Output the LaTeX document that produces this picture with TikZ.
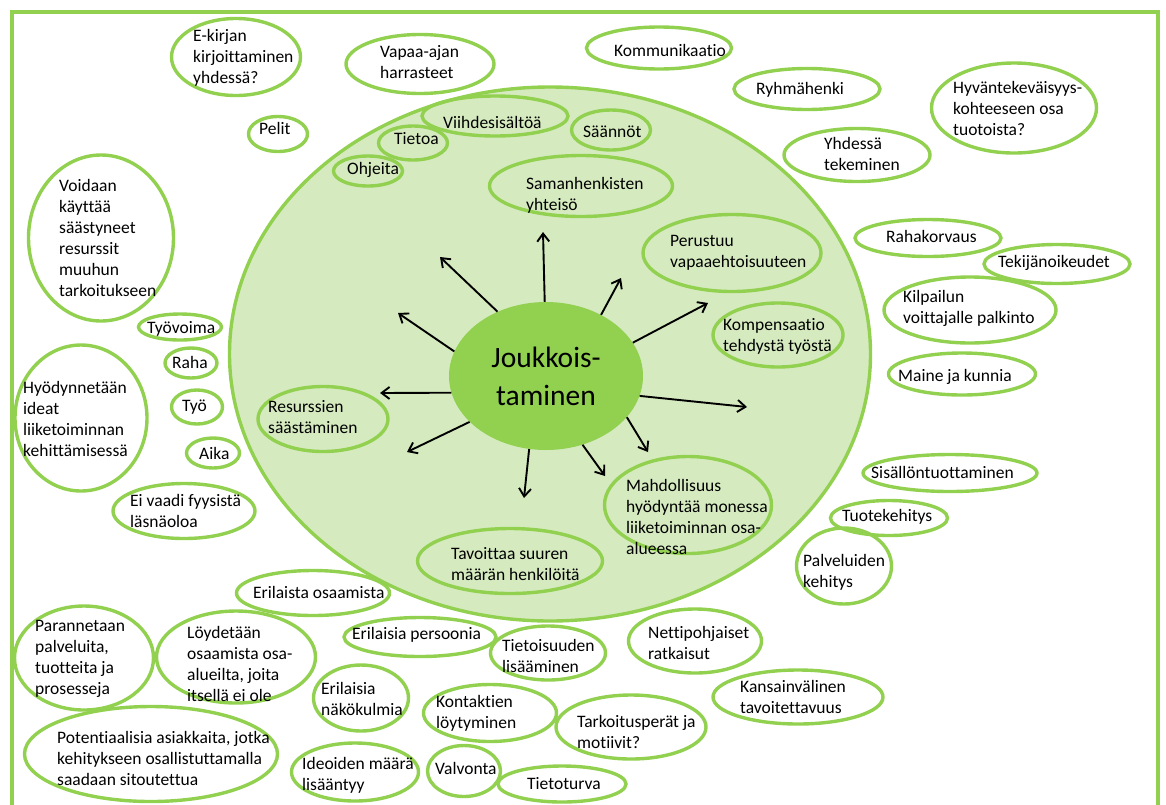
\documentclass[tikz,border=0pt]{standalone}
\usepackage{fontspec}
\setmainfont[Ligatures={NoCommon}]{Carlito}
\usetikzlibrary{shapes.geometric,arrows.meta}
\definecolor{leaf}{RGB}{146,208,80}
\definecolor{paleleaf}{RGB}{213,235,191}

% bubble: name, centre x, centre y, width, height, text x, text y, text
\newcommand\bub[8]{%
  \node[bubble, minimum width=#4pt, minimum height=#5pt] (#1) at (#2,#3) {};
  \node[txt] (#1t) at (#6,#7) {#8};}

\begin{document}
\begin{tikzpicture}[x=1pt,y=-1pt,
  bubble/.style={ellipse, draw=leaf, line width=3.4pt, inner sep=0pt},
  txt/.style={inner sep=0pt, align=left, anchor=west, text=black,
    font=\fontsize{17.5}{21}\selectfont},
  ray/.style={line width=1.9pt, draw=black,
    -{Straight Barb[length=8pt,width=12pt]}}]
\useasboundingbox (0,0) rectangle (1166,804);
\clip (0,0) rectangle (1166,804);
\fill[white] (0,0) rectangle (1166,804);

% frame
\draw[leaf, line width=3.5pt] (12,12) rectangle (1158,840);

% large shaded area
\node[ellipse, fill=paleleaf, draw=leaf, line width=3.4pt, inner sep=0pt,
  minimum width=641pt, minimum height=534pt] (area) at (550,354) {};

% central topic
\node[ellipse, fill=leaf, inner sep=0pt, minimum width=194pt, minimum height=148pt,
  align=center, font=\fontsize{29.5}{38}\selectfont] (J) at (546,376) {Joukkois-\\taminen};

% arrows radiating from the centre
\coordinate (c1) at (440,257);
\coordinate (c2) at (543,232);
\coordinate (c3) at (621,278);
\coordinate (c4) at (708,303);
\coordinate (c5) at (747,407);
\coordinate (c6) at (648,452);
\coordinate (c7) at (605,476);
\coordinate (c8) at (524,498);
\coordinate (c9) at (407,452);
\coordinate (c10) at (380,393);
\coordinate (c11) at (398,313);
\draw[ray] (J.127) -- (c1);
\draw[ray] (J.91) -- (c2);
\draw[ray] (J.48) -- (c3);
\draw[ray] (J.21) -- (c4);
\draw[ray] (J.-12) -- (c5);
\draw[ray] (J.-27) -- (c6);
\draw[ray] (J.-62) -- (c7);
\draw[ray] (J.-103) -- (c8);
\draw[ray] (J.211) -- (c9);
\draw[ray] (J.190) -- (c10);
\draw[ray] (J.165) -- (c11);

% bubbles
\bub{ekirja}{236}{57}{129}{77}{193}{58}{E-kirjan\\kirjoittaminen\\yhdessä?}
\bub{vapaa}{420}{64}{148}{59}{380}{62}{Vapaa-ajan\\harrasteet}
\bub{pelit}{278}{134}{59}{35}{259}{128}{Pelit}
\bub{voidaan}{101}{238}{145}{166}{59}{238}{Voidaan\\käyttää\\säästyneet\\resurssit\\muuhun\\tarkoitukseen}
\bub{ohjeita}{368}{171}{69}{30}{347}{170}{Ohjeita}
\bub{tietoa}{413}{143}{69}{34}{394}{139}{Tietoa}
\bub{viihde}{495}{116}{146}{40}{443}{122}{Viihdesisältöä}
\bub{saannot}{611}{130}{79}{40}{583}{132}{Säännöt}
\bub{saman}{581}{186}{183}{61}{526}{195}{Samanhenkisten\\yhteisö}
\bub{kommu}{659}{48}{145}{42}{614}{50}{Kommunikaatio}
\bub{ryhma}{807}{89}{146}{41}{756}{90}{Ryhmähenki}
\bub{hyvante}{1014}{108}{165}{90}{953}{108}{Hyväntekeväisyys-\\kohteeseen osa\\tuotoista?}
\bub{yhdessa}{857}{155}{146}{53}{824}{154}{Yhdessä\\tekeminen}
\bub{perus}{732}{253}{178}{77}{670}{253}{Perustuu\\vapaaehtoisuuteen}
\bub{rahak}{928}{238}{146}{37}{886}{236}{Rahakorvaus}
\bub{tekija}{1057}{264}{146}{39}{998}{263}{Tekijänoikeudet}
\bub{kilpailu}{970}{310}{172}{66}{903}{308}{Kilpailun\\voittajalle palkinto}
\bub{kompens}{778}{335}{130}{64}{723}{336}{Kompensaatio\\tehdystä työstä}
\bub{maine}{962}{374}{147}{42}{898}{377}{Maine ja kunnia}
\bub{tyovoima}{180}{327}{83}{26}{147}{329}{Työvoima}
\bub{raha}{191}{363}{52}{30}{172}{362}{Raha}
\bub{hyodyn}{81}{418}{132}{146}{23}{419}{Hyödynnetään\\ideat\\liiketoiminnan\\kehittämisessä}
\bub{tyo}{197}{407}{51}{34}{182}{407}{Työ}
\bub{aika}{213}{453}{53}{30}{199}{453}{Aika}
\bub{eivaadi}{184}{511}{142}{55}{130}{511}{Ei vaadi fyysistä\\läsnäoloa}
\bub{resurssi}{323}{419}{130}{65}{268}{417}{Resurssien\\säästäminen}
\bub{mahd}{688}{505}{167}{97}{626}{517}{Mahdollisuus\\hyödyntää monessa\\liiketoiminnan osa-\\alueessa}
\bub{sisallon}{950}{473}{174}{37}{871}{472}{Sisällöntuottaminen}
\bub{tuote}{889}{518}{117}{35}{842}{517}{Tuotekehitys}
\bub{palvelu}{844}{566}{95}{76}{803}{572}{Palveluiden\\kehitys}
\bub{tavoittaa}{510}{561}{185}{65}{451}{564}{Tavoittaa suuren\\määrän henkilöitä}
\bub{erilosaa}{313}{593}{153}{45}{253}{592}{Erilaista osaamista}
\bub{parann}{84}{658}{139}{104}{35}{659}{Parannetaan\\palveluita,\\tuotteita ja\\prosesseja}
\bub{loyd}{236}{657}{159}{92}{187}{664}{Löydetään\\osaamista osa-\\alueilta, joita\\itsellä ei ole}
\bub{persoon}{420}{637}{152}{39}{352}{635}{Erilaisia persoonia}
\bub{nakok}{361}{698}{95}{66}{321}{699}{Erilaisia\\näkökulmia}
\bub{potent}{151}{754}{253}{95}{57}{758}{Potentiaalisia asiakkaita, jotka\\kehitykseen osallistuttamalla\\saadaan sitoutettua}
\bub{ideoid}{355}{772}{127}{58}{302}{775}{Ideoiden määrä\\lisääntyy}
\bub{tietois}{548}{653}{115}{54}{502}{656}{Tietoisuuden\\lisääminen}
\bub{netti}{695}{641}{133}{64}{648}{643}{Nettipohjaiset\\ratkaisut}
\bub{kontakt}{490}{713}{133}{57}{436}{713}{Kontaktien\\löytyminen}
\bub{tarkoitus}{631}{727}{150}{64}{577}{732}{Tarkoitusperät ja\\motiivit?}
\bub{kansain}{798}{697}{170}{54}{740}{697}{Kansainvälinen\\tavoitettavuus}
\bub{valvonta}{464}{771}{73}{51}{435}{768}{Valvonta}
\bub{tietot}{562}{784}{128}{36}{527}{784}{Tietoturva}
\end{tikzpicture}
\end{document}
